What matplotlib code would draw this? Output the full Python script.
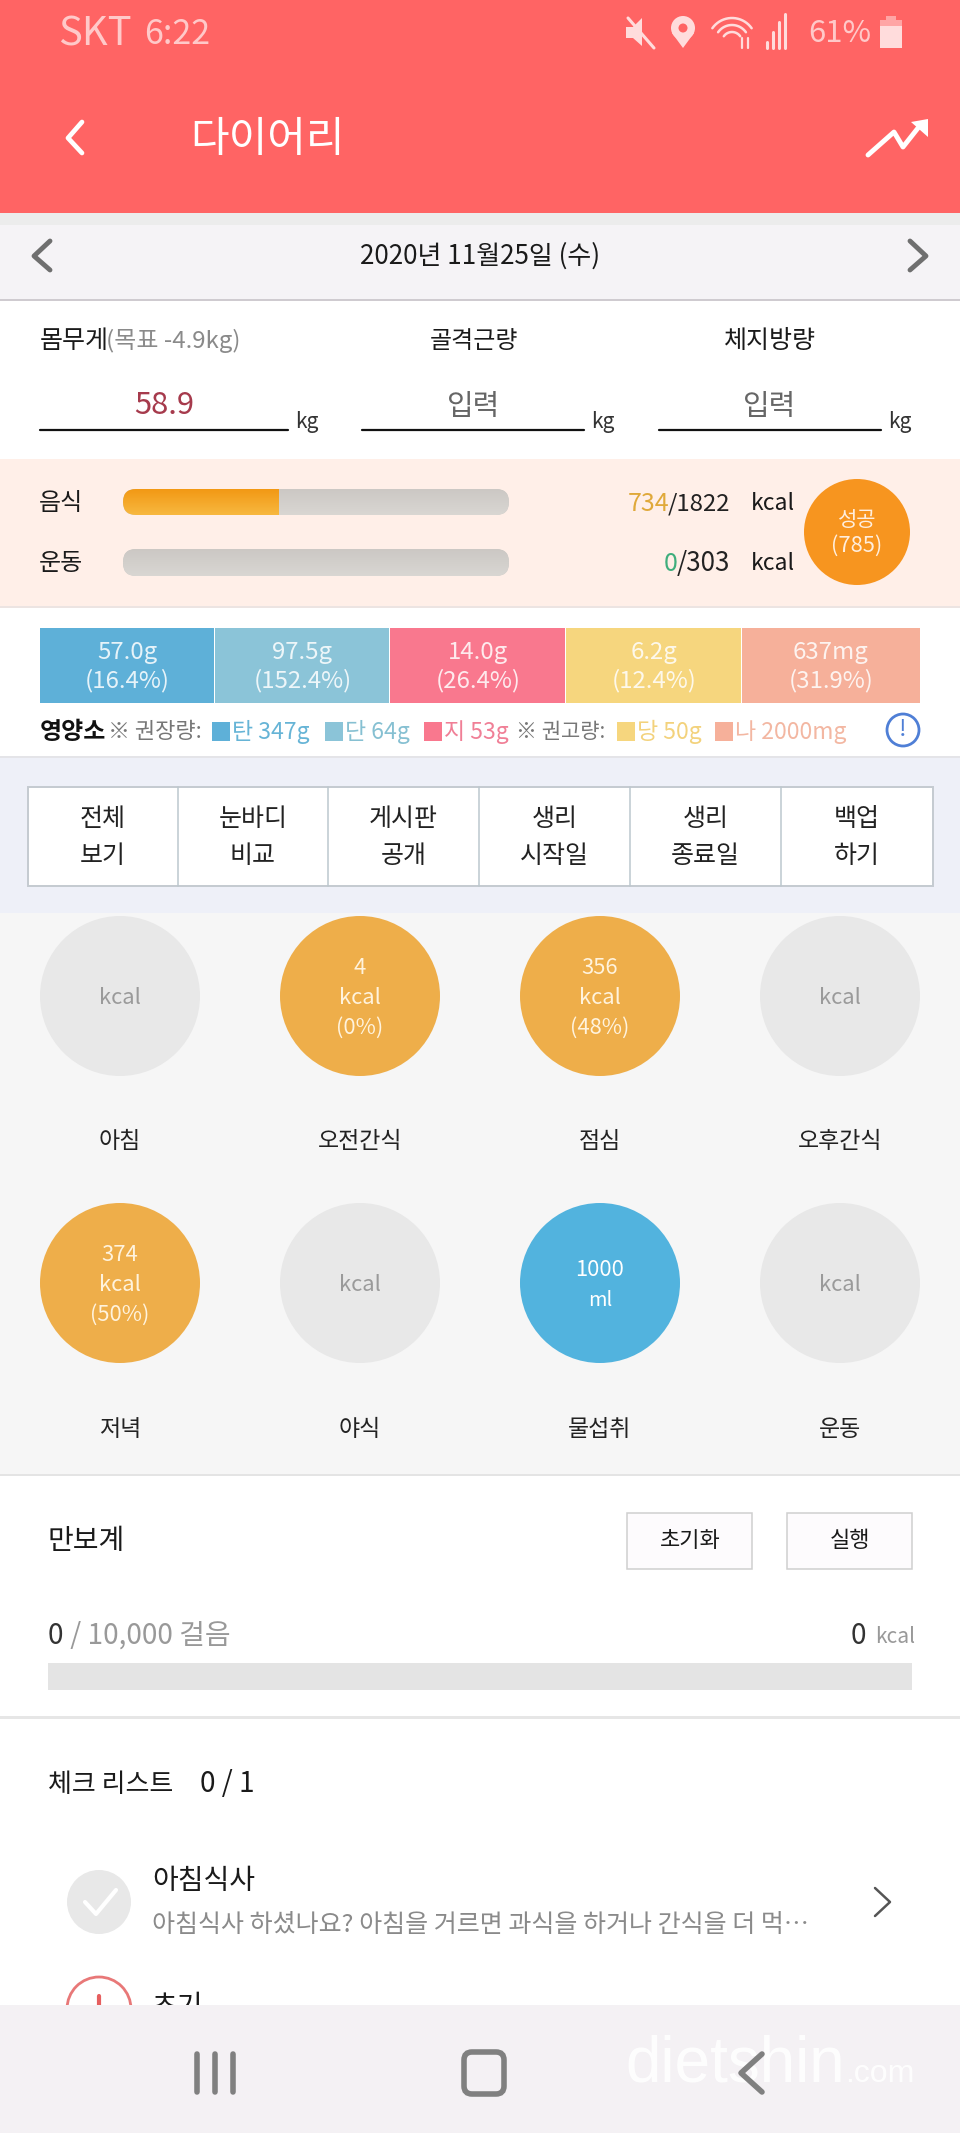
import numpy as np
import matplotlib
matplotlib.use("Agg")
import matplotlib.pyplot as plt
from matplotlib.patches import Rectangle, Circle, FancyBboxPatch, Polygon

plt.rcParams['font.family'] = ['Noto Sans CJK KR', 'DejaVu Sans']

# ---- data ----
carrier = "SKT"; clock = "6:22"; battery = "61%"
title = "다이어리"; date_label = "2020년 11월25일 (수)"
body_labels = ["몸무게", "골격근량", "체지방량"]
goal_label = "(목표 -4.9kg)"
body_values = ["58.9", "입력", "입력"]
food_kcal, food_goal = 734, 1822
exercise_kcal, exercise_goal = 0, 303
badge = ["성공", "(785)"]
nutrient_values = ["57.0g", "97.5g", "14.0g", "6.2g", "637mg"]
nutrient_pcts = ["(16.4%)", "(152.4%)", "(26.4%)", "(12.4%)", "(31.9%)"]
nutrient_colors = ["#5eb0d8", "#8bc4d8", "#f9788e", "#f6d67e", "#f6b09a"]
nutrient_legend = ["탄 347g", "단 64g", "지 53g", "당 50g", "나 2000mg"]
nutrient_text = ["#66b4d6", "#86c0d2", "#f07f96", "#f3d27c", "#f3b7a2"]
button_top = ["전체", "눈바디", "게시판", "생리", "생리", "백업"]
button_bottom = ["보기", "비교", "공개", "시작일", "종료일", "하기"]
meal_names = ["아침", "오전간식", "점심", "오후간식", "저녁", "야식", "물섭취", "운동"]
meal_values = ["", "4", "356", "", "374", "", "1000", ""]
meal_units = ["kcal", "kcal", "kcal", "kcal", "kcal", "kcal", "ml", "kcal"]
meal_pcts = ["", "(0%)", "(48%)", "", "(50%)", "", "", ""]
steps_label = "0"; steps_goal = " / 10,000 걸음"

W, H = 960, 2133
fig = plt.figure(figsize=(W / 100, H / 100), dpi=100)
ax = fig.add_axes([0, 0, 1, 1])
ax.set_xlim(0, W); ax.set_ylim(H, 0); ax.axis("off")


def T(x, y, s, px, c="#1a1a1a", ha="center", **kw):
    return ax.text(x, y + 3, s, fontsize=px * 0.72, color=c, ha=ha, va="center", **kw)


def R(x0, y0, x1, y1, fc, ec="none", lw=0, z=1):
    ax.add_patch(Rectangle((x0, y0), x1 - x0, y1 - y0, fc=fc, ec=ec, lw=lw, zorder=z))


def L(xs, ys, c, lw, z=3):
    ax.plot(xs, ys, color=c, lw=lw, solid_capstyle="round", solid_joinstyle="round", zorder=z)


# section backgrounds
R(0, 0, W, 213, "#ff6464")
R(0, 213, W, 225, "#ececec")
R(0, 225, W, 299, "#f5f3f6")
R(0, 299, W, 301, "#cfcbd0")
R(0, 301, W, 459, "#ffffff")
R(0, 459, W, 606, "#ffefe8")
R(0, 606, W, 608, "#ece4e2")
R(0, 608, W, 756, "#ffffff")
R(0, 756, W, 758, "#e4e4e8")
R(0, 758, W, 913, "#eef0f8")
R(0, 913, W, 1474, "#f6f6f6")
R(0, 1474, W, 1476, "#e4e4e4")
R(0, 1476, W, 2005, "#ffffff")
R(0, 1716, W, 1719, "#e6e6e6")

# status bar
T(58, 32, carrier, 40, "#ffc9c9", ha="left")
T(144, 31, clock, 34, "#ffc9c9", ha="left")
pale = "#ffdcdc"
ax.add_patch(Polygon([(626, 27), (633, 27), (642, 18), (642, 46), (633, 38), (626, 38)], fc=pale, zorder=3))
L([628, 654], [18, 48], pale, 2.2)
ax.add_patch(Circle((683, 28), 12, fc=pale, zorder=3))
ax.add_patch(Polygon([(672, 33), (694, 33), (683, 48)], fc=pale, zorder=3))
ax.add_patch(Circle((683, 28), 4.5, fc="#ff6464", zorder=4))
for r in (10, 17, 24):
    t = np.radians(np.linspace(215, 325, 20))
    L(732 + r * np.cos(t), 42 + r * np.sin(t), pale, 1.8)
L([742, 742], [38, 48], pale, 1.6)
L([748, 748], [38, 48], pale, 1.6)
for x, h in zip((767, 773, 779, 785), (6, 16, 26, 34)):
    L([x, x], [48, 48 - h], pale, 2.2)
T(808, 30, battery, 31, "#ffc9c9", ha="left")
R(880, 26, 902, 48, pale); R(880, 20, 902, 26, "#ffa5a5"); R(886, 16, 896, 20, "#ffa5a5")

# header
L([82, 68, 82], [122, 138, 153], "#ffffff", 3.4)
T(267, 137, title, 42, "#ffffff")
L([868, 894, 903, 918], [155, 132, 147, 128], "#ffffff", 3.5)
ax.add_patch(Polygon([(911, 122), (928, 119), (928, 137)], fc="#ffffff", zorder=3))

# date bar
L([50, 34, 50], [241, 256, 270], "#6f6f6f", 3.5)
L([910, 926, 910], [241, 256, 270], "#6f6f6f", 3.5)
T(480, 253, date_label, 26)

# body measures
T(40, 338, body_labels[0], 25, ha="left")
T(106, 338, goal_label, 24, "#8a8a8a", ha="left")
T(474, 338, body_labels[1], 24)
T(770, 338, body_labels[2], 25)
T(164, 402, body_values[0], 31, "#a63a4c")
T(474, 404, body_values[1], 29, "#666666", fontweight="medium")
T(770, 404, body_values[2], 29, "#666666", fontweight="medium")
for x0, x1, kx, in ((40, 288, 307), (362, 584, 603), (659, 881, 900)):
    L([x0, x1], [430, 430], "#111111", 1.6)
    T(kx, 419, "kg", 21, "#333333")

# food / exercise bars
BX0, BX1 = 123, 509
T(61, 500, "음식", 24)
T(61, 560, "운동", 24)


def track(y0, y1, frac):
    p = FancyBboxPatch((BX0 + 13, y0 + 13), BX1 - BX0 - 26, y1 - y0 - 26,
                       boxstyle="round,pad=13", fc="#cfccc9", ec="none", zorder=2)
    ax.add_patch(p)
    grad = np.linspace(0, 1, 32)[:, None, None]
    c1, c2 = np.array([0.80, 0.785, 0.77]), np.array([0.85, 0.84, 0.825])
    im = ax.imshow(c1 + (c2 - c1) * grad, extent=(BX0, BX1, y1, y0), aspect="auto", zorder=2.1)
    im.set_clip_path(p)
    if frac > 0:
        a, b = np.array([0.95, 0.60, 0.08]), np.array([0.97, 0.72, 0.25])
        g = ax.imshow(a + (b - a) * grad, extent=(BX0, BX0 + (BX1 - BX0) * frac, y1, y0),
                      aspect="auto", zorder=2.2)
        g.set_clip_path(p)


track(489, 515, food_kcal / food_goal)
track(549, 576, exercise_kcal / exercise_goal)
ax.set_xlim(0, W); ax.set_ylim(H, 0)

T(669, 501, str(food_kcal), 25, "#e0a93a", ha="right")
T(730, 501, f"/{food_goal}", 24, "#222222", ha="right")
T(773, 501, "kcal", 23)
T(678, 561, str(exercise_kcal), 25, "#3fae7d", ha="right")
T(730, 561, f"/{exercise_goal}", 26, "#222222", ha="right")
T(773, 561, "kcal", 23)
ax.add_patch(Circle((857, 532), 53, fc="#f7951f", zorder=3))
T(857, 517, badge[0], 21, "#ffeedd", zorder=4)
T(857, 543, badge[1], 22, "#ffeedd", zorder=4)

# nutrients
edges = [40, 215, 390, 566, 742, 920]
for i in range(5):
    R(edges[i], 628, edges[i + 1] - (1 if i < 4 else 0), 703, nutrient_colors[i])
    cx = (edges[i] + edges[i + 1]) / 2
    T(cx, 650, nutrient_values[i], 24, "#ffffff", zorder=3, alpha=0.85)
    T(cx, 678, nutrient_pcts[i], 24, "#ffffff", zorder=3, alpha=0.85)
T(40, 729, "영양소", 24, "#111111", ha="left", fontweight="bold")
T(108, 729, "※ 권장량:", 22, "#777777", ha="left")
T(516, 729, "※ 권고량:", 21, "#777777", ha="left")
sq_x = [212, 325, 424, 617, 715]
for x, s, c, sq in zip(sq_x, nutrient_legend, nutrient_text, nutrient_colors):
    R(x, 722, x + 18, 741, sq, z=3)
    T(x + 20, 729, s, 23, c, ha="left")
ax.add_patch(Circle((903, 730), 16, fc="#ffffff", ec="#4f7fd6", lw=2, zorder=3))
T(903, 727, "!", 24, "#4f7fd6", zorder=4)

# button row
R(28, 787, 933, 886, "#ffffff", "#c4cad0", 1.4, z=2)
bx = [28, 178, 328, 479, 630, 781, 933]
for i in range(6):
    if i:
        L([bx[i], bx[i]], [787, 886], "#bcc8ce", 1.1)
    cx = (bx[i] + bx[i + 1]) / 2
    T(cx, 816, button_top[i], 25, "#222222")
    T(cx, 853, button_bottom[i], 25, "#222222")

# meal circles
cxs = [120, 360, 600, 840]
cys = [996, 1283]
lys = [1138, 1427]
for i, name in enumerate(meal_names):
    cx, cy, ly = cxs[i % 4], cys[i // 4], lys[i // 4]
    filled = meal_values[i] != ""
    col = "#52b3de" if meal_units[i] == "ml" else ("#eeae4a" if filled else "#e8e8e8")
    ax.add_patch(Circle((cx, cy), 80, fc=col, zorder=2))
    if filled and meal_pcts[i]:
        T(cx, cy - 31, meal_values[i], 22, "#fff3dd", zorder=3)
        T(cx, cy - 1, meal_units[i], 22, "#fff3dd", zorder=3)
        T(cx, cy + 29, meal_pcts[i], 22, "#fff3dd", zorder=3)
    elif filled:
        T(cx, cy - 16, meal_values[i], 22, "#ffffff", zorder=3)
        T(cx, cy + 14, meal_units[i], 20, "#ffffff", zorder=3)
    else:
        T(cx, cy - 1, meal_units[i], 22, "#9a9a9a", zorder=3)
    T(cx, ly, name, 23, "#222222")

# pedometer
T(48, 1538, "만보계", 28, ha="left")
R(627, 1513, 752, 1569, "#fdfbfd", "#cfcfcf", 1.1, z=2)
R(787, 1513, 912, 1569, "#fdfbfd", "#cfcfcf", 1.1, z=2)
T(690, 1538, "초기화", 22)
T(850, 1538, "실행", 22)
T(48, 1633, steps_label, 28, "#333333", ha="left")
T(64, 1633, steps_goal, 28, "#999999", ha="left")
T(851, 1633, "0", 28, "#333333", ha="left")
T(875, 1634, "kcal", 21, "#999999", ha="left")
R(48, 1663, 912, 1690, "#e4e4e4")

# checklist
T(48, 1781, "체크 리스트", 26, ha="left")
T(200, 1781, "0 / 1", 28, ha="left")
ax.add_patch(Circle((99, 1902), 32, fc="#e8e8e8", zorder=3))
L([85, 96, 116], [1902, 1914, 1890], "#ffffff", 3)
T(152, 1878, "아침식사", 28, ha="left")
T(152, 1922, "아침식사 하셨나요? 아침을 거르면 과식을 하거나 간식을 더 먹…", 25, "#8a8a8a", ha="left")
L([875, 890, 875], [1888, 1902, 1916], "#555555", 1.8)
ax.add_patch(Circle((99, 2009), 32, fc="#ffffff", ec="#e87878", lw=2, zorder=3))
L([99, 99], [1996, 2015], "#e65f5f", 3)
T(152, 2004, "초기", 28, ha="left", zorder=3)

# nav bar
R(0, 2005, W, H, "#f4f1f4", z=5)
for x in (197, 215, 233):
    L([x, x], [2054, 2092], "#808080", 4, z=6)
ax.add_patch(FancyBboxPatch((472, 2060), 24, 26, boxstyle="round,pad=8", fc="none",
                            ec="#808080", lw=4, zorder=6))
L([762, 741, 762], [2054, 2073, 2092], "#808080", 4, z=7)
ax.text(625, 2082, "dietshin", fontsize=46, color="#ffffff", ha="left", va="baseline",
        family="Liberation Sans", zorder=6, alpha=0.9)
ax.text(845, 2082, ".com", fontsize=23, color="#ffffff", ha="left", va="baseline",
        family="Liberation Sans", zorder=6, alpha=0.9)

fig.savefig("out.png", dpi=100)
